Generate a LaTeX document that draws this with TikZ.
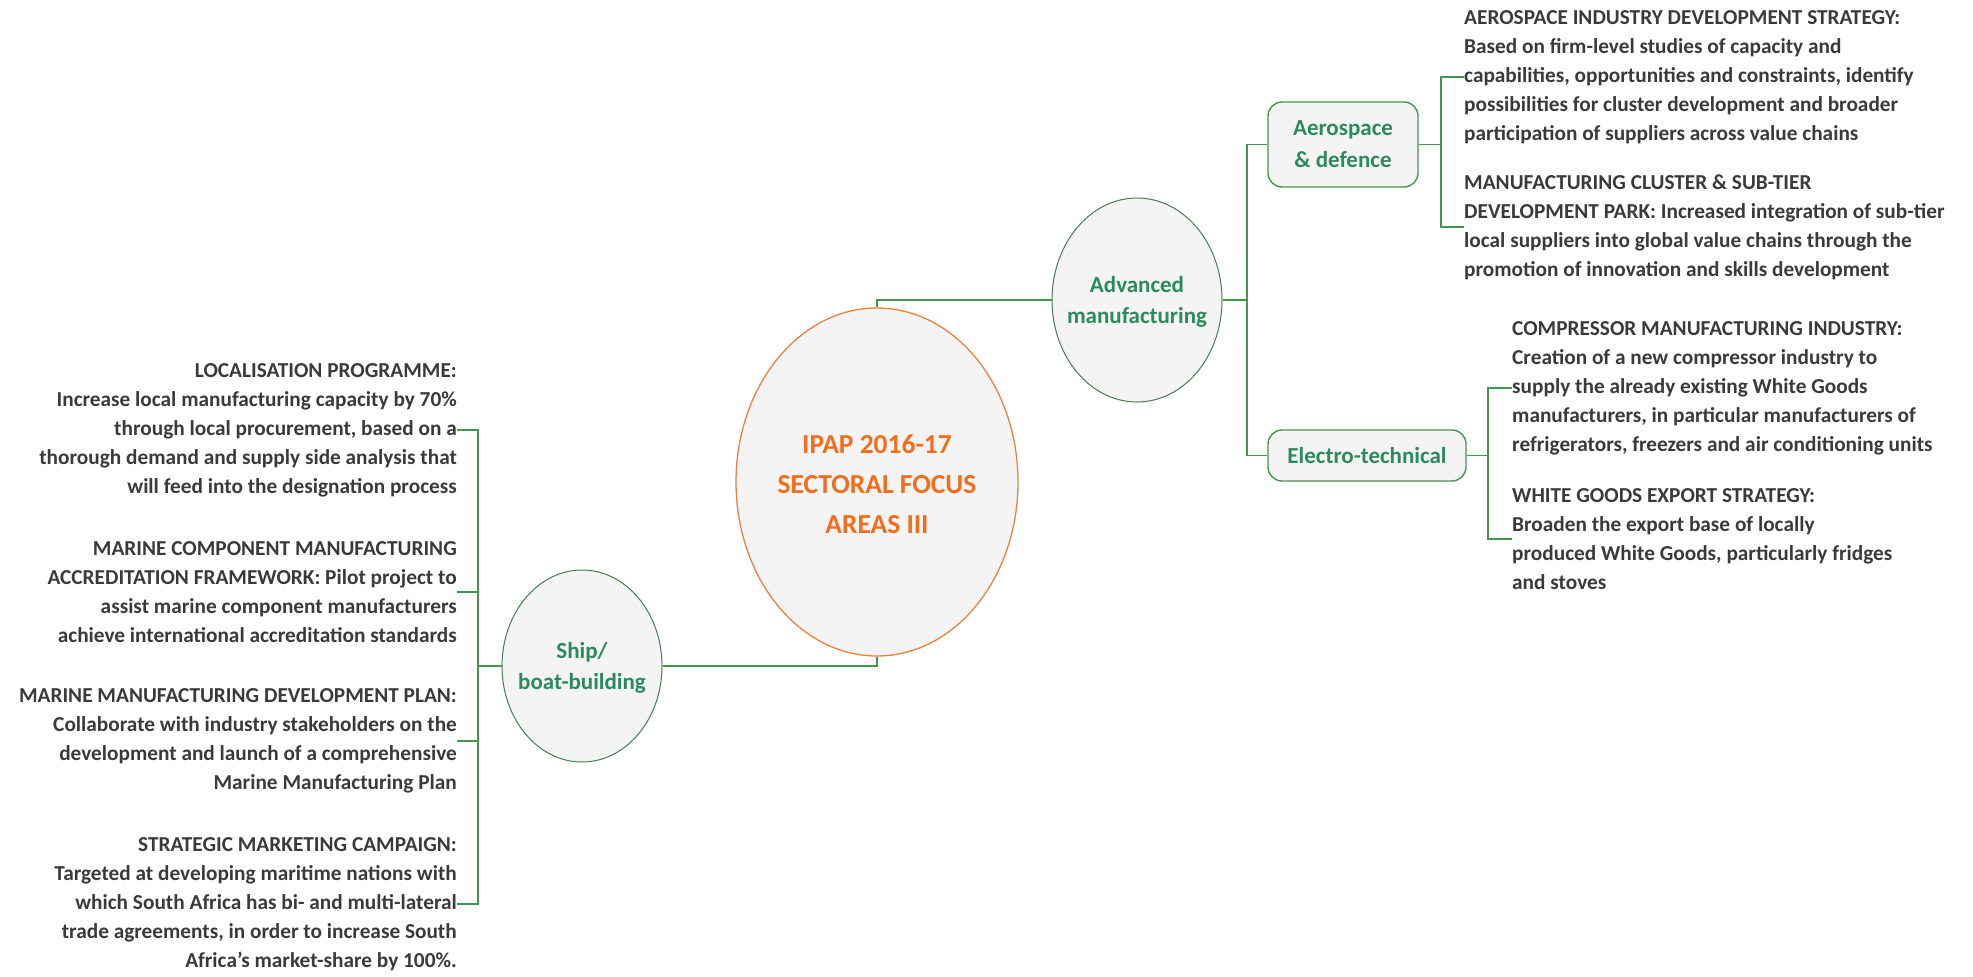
\documentclass[tikz,border=0pt]{standalone}
\usepackage{fontspec}
\setmainfont{Carlito}
\usetikzlibrary{shapes.geometric}

\definecolor{linkgreen}{RGB}{66,150,78}
\definecolor{nodegreen}{RGB}{43,138,94}
\definecolor{rimgreen}{RGB}{70,125,80}
\definecolor{softfill}{RGB}{244,244,244}
\definecolor{hubrim}{RGB}{232,130,60}
\definecolor{hubtext}{RGB}{240,110,30}
\definecolor{bodytext}{RGB}{58,58,58}

\begin{document}
\begin{tikzpicture}[x=1pt,y=-1pt,
  link/.style={draw=linkgreen, line width=1.8pt},
  bubble/.style={ellipse, draw=rimgreen, line width=1pt, fill=softfill, inner sep=0pt},
  bubbletext/.style={text=nodegreen, font=\fontsize{23}{31}\selectfont\bfseries, align=center, inner sep=0pt},
  tag/.style={rectangle, rounded corners=14pt, draw=linkgreen, line width=1.4pt, fill=softfill,
    text=nodegreen, font=\fontsize{23}{32}\selectfont\bfseries, align=center, inner sep=0pt},
  note/.style={text=bodytext, font=\fontsize{21.3}{29}\selectfont\bfseries, inner sep=0pt},
  leftnote/.style={note, anchor=east, align=right},
  rightnote/.style={note, anchor=west, align=left},
]
\useasboundingbox (0,0) rectangle (1973,977);

% central topic
\node[ellipse, draw=hubrim, line width=1.3pt, fill=softfill, inner sep=0pt,
      minimum width=282pt, minimum height=348pt] (hub) at (877,482) {};
\node[text=hubtext, font=\fontsize{27.5}{40}\selectfont\bfseries, align=center, inner sep=0pt]
      (hubtitle) at (877,484) {IPAP 2016-17\\SECTORAL FOCUS\\AREAS III};

% main branches
\node[bubble, minimum width=160pt, minimum height=192pt] (ship) at (582,666) {};
\node[bubbletext] (shiptitle) at (582,668) {Ship/\\boat-building};

\node[bubble, minimum width=170pt, minimum height=204pt] (adv) at (1137,300) {};
\node[bubbletext] (advtitle) at (1137,302) {Advanced\\manufacturing};

% sub-branches
\node[tag, minimum width=150pt, minimum height=85pt] (aero) at (1343,144.5) {\raisebox{-2pt}{Aerospace}\\\raisebox{-2pt}{\& defence}};
\node[tag, minimum width=198pt, minimum height=51pt] (elec) at (1367,455.5) {Electro-technical};

% ship/boat-building notes
\node[leftnote] (loc) at (457,430) {LOCALISATION PROGRAMME:\\
  Increase local manufacturing capacity by 70\%\\
  through local procurement, based on a\\
  thorough demand and supply side analysis that\\
  will feed into the designation process};
\node[leftnote] (accr) at (457,592) {MARINE COMPONENT MANUFACTURING\\
  ACCREDITATION FRAMEWORK: Pilot project to\\
  assist marine component manufacturers\\
  achieve international accreditation standards};
\node[leftnote] (plan) at (457,741) {MARINE MANUFACTURING DEVELOPMENT PLAN:\\
  Collaborate with industry stakeholders on the\\
  development and launch of a comprehensive\\
  Marine Manufacturing Plan};
\node[leftnote] (camp) at (457,904) {STRATEGIC MARKETING CAMPAIGN:\\
  Targeted at developing maritime nations with\\
  which South Africa has bi- and multi-lateral\\
  trade agreements, in order to increase South\\
  Africa’s market-share by 100\%.};

% aerospace notes
\node[rightnote] (aerostrat) at (1464,77) {AEROSPACE INDUSTRY DEVELOPMENT STRATEGY:\\
  Based on firm-level studies of capacity and\\
  capabilities, opportunities and constraints, identify\\
  possibilities for cluster development and broader\\
  participation of suppliers across value chains};
\node[rightnote] (cluster) at (1464,227) {MANUFACTURING CLUSTER \& SUB-TIER\\
  DEVELOPMENT PARK: Increased integration of sub-tier\\
  local suppliers into global value chains through the\\
  promotion of innovation and skills development};

% electro-technical notes
\node[rightnote] (compr) at (1512,388) {COMPRESSOR MANUFACTURING INDUSTRY:\\
  Creation of a new compressor industry to\\
  supply the already existing White Goods\\
  manufacturers, in particular manufacturers of\\
  refrigerators, freezers and air conditioning units};
\node[rightnote] (export) at (1512,539) {WHITE GOODS EXPORT STRATEGY:\\
  Broaden the export base of locally\\
  produced White Goods, particularly fridges\\
  and stoves};

% branch junctions
\coordinate (shipbus) at (478,666);
\coordinate (advbus) at (1247,300);
\coordinate (aerobus) at (1441,144.5);
\coordinate (elecbus) at (1488,455.5);

% connectors
\draw[link] (hub.south) |- (ship.east);
\draw[link] (hub.north) |- (adv.west);

\draw[link] (ship.west) -- (shipbus);
\draw[link] (shipbus) |- (loc.east);
\draw[link] (shipbus) |- (accr.east);
\draw[link] (shipbus) |- (plan.east);
\draw[link] (shipbus) |- (camp.east);

\draw[link] (adv.east) -- (advbus);
\draw[link] (advbus) |- (aero.west);
\draw[link] (advbus) |- (elec.west);

\draw[link] (aero.east) -- (aerobus);
\draw[link] (aerobus) |- (aerostrat.west);
\draw[link] (aerobus) |- (cluster.west);

\draw[link] (elec.east) -- (elecbus);
\draw[link] (elecbus) |- (compr.west);
\draw[link] (elecbus) |- (export.west);
\end{tikzpicture}
\end{document}
